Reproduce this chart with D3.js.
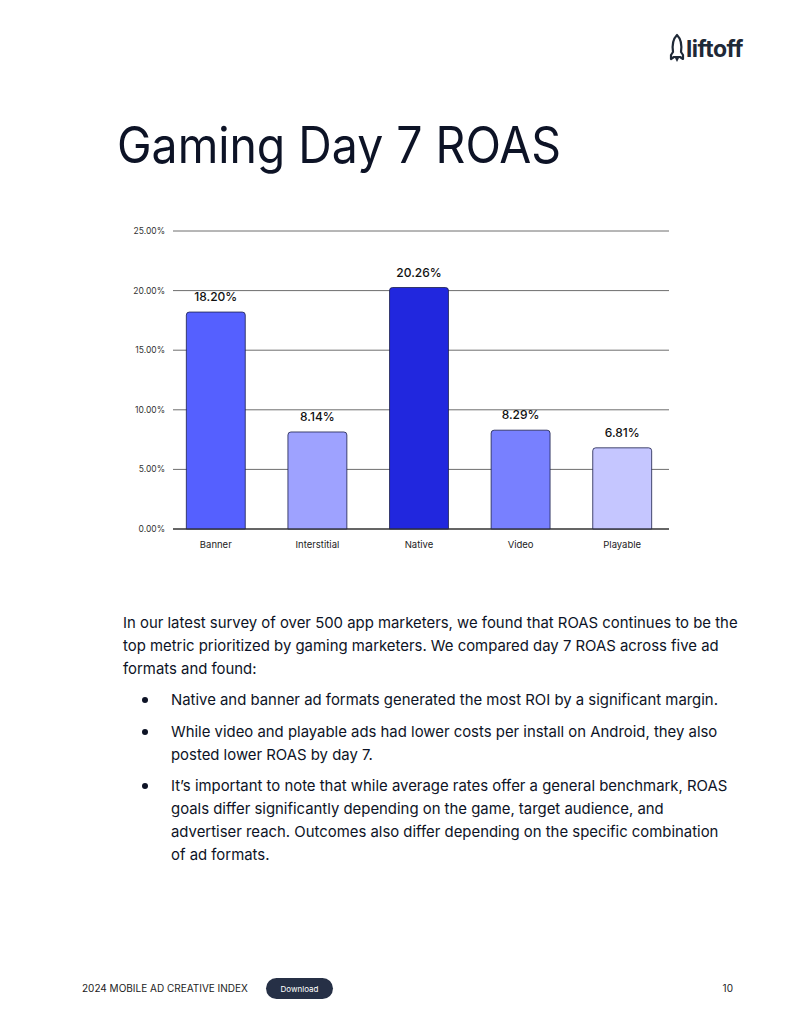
<!DOCTYPE html>
<html><head><meta charset="utf-8">
<script src="https://cdn.jsdelivr.net/npm/d3@7"></script>
<style>
html,body{margin:0;padding:0;background:#fff;}
svg{display:block;font-family:Inter,"Noto Sans",sans-serif;}
</style></head>
<body>
<script>
const categories = ["Banner","Interstitial","Native","Video","Playable"];
const values = [18.20, 8.14, 20.26, 8.29, 6.81];
const barColors = ["#5560FF","#9EA2FF","#2127DE","#7880FF","#C5C6FF"];
const yTicks = [0,5,10,15,20,25];
const title = "Gaming Day 7 ROAS";
const introLines = ["In our latest survey of over 500 app marketers, we found that ROAS continues to be the",
 "top metric prioritized by gaming marketers. We compared day 7 ROAS across five ad",
 "formats and found:"];
const bullets = [
 ["Native and banner ad formats generated the most ROI by a significant margin."],
 ["While video and playable ads had lower costs per install on Android, they also","posted lower ROAS by day 7."],
 ["It’s important to note that while average rates offer a general benchmark, ROAS","goals differ significantly depending on the game, target audience, and","advertiser reach. Outcomes also differ depending on the specific combination","of ad formats."]
];
const footerLeft = "2024 MOBILE AD CREATIVE INDEX";
const footerButton = "Download";
const pageNum = "10";

const W=800,H=1035;
const svg=d3.select("body").append("svg").attr("width",W).attr("height",H);
const ink="#0d1326";

function fit(sel,w){ sel.each(function(){ const l=this.getComputedTextLength(); if(Math.abs(l-w)>1) d3.select(this).attr("textLength",w).attr("lengthAdjust","spacingAndGlyphs");}); }

// logo
const logo=svg.append("g").attr("transform","translate(670,35)");
logo.append("path").attr("d","M7,0 C11,4 12,10 11,17 L13,20 L13,24 L10,22 L4,22 L1,24 L1,20 L3,17 C2,10 3,4 7,0 Z")
 .attr("fill","none").attr("stroke","#1f2937").attr("stroke-width",2.2).attr("stroke-linejoin","round");
logo.append("path").attr("d","M5,23 L7,27 L9,23 Z").attr("fill","#1f2937");
logo.append("text").attr("x",16).attr("y",22).attr("font-size",23).attr("font-weight",700).attr("fill","#1f2937").attr("letter-spacing",-0.5).text("liftoff").call(fit,57);

// title
svg.append("text").attr("x",117).attr("y",163).attr("font-size",50).attr("font-weight",400).attr("fill",ink).text(title).call(fit,444);

// chart
const y=d3.scaleLinear().domain([0,25]).range([529,231]);
const x=d3.scaleBand().domain(categories).range([165,673]).paddingInner(0.42).paddingOuter(0.21);
const g=svg.append("g");
g.selectAll("line.grid").data(yTicks).join("line").attr("class","grid")
 .attr("x1",173).attr("x2",669).attr("y1",d=>y(d)).attr("y2",d=>y(d))
 .attr("stroke",d=>d===0?"#333":"#6e6e6e").attr("stroke-width",1);
g.selectAll("text.yt").data(yTicks).join("text").attr("class","yt")
 .attr("x",165).attr("y",d=>y(d)+3).attr("text-anchor","end").attr("font-size",8.5).attr("fill","#333")
 .text(d=>d3.format(".2f")(d)+"%");
const data=categories.map((c,i)=>({c,v:values[i],col:barColors[i]}));
const r=3;
g.selectAll("path.bar").data(data).join("path").attr("class","bar")
 .attr("d",d=>{const x0=x(d.c),x1=x0+x.bandwidth(),t=y(d.v),b=y(0);
   return `M${x0},${b} L${x0},${t+r} Q${x0},${t} ${x0+r},${t} L${x1-r},${t} Q${x1},${t} ${x1},${t+r} L${x1},${b} Z`;})
 .attr("fill",d=>d.col).attr("stroke","#1b1e4a").attr("stroke-width",0.8);
g.append("line").attr("x1",173).attr("x2",669).attr("y1",y(0)).attr("y2",y(0)).attr("stroke","#333");
g.selectAll("text.vl").data(data).join("text").attr("class","vl")
 .attr("x",d=>x(d.c)+x.bandwidth()/2).attr("y",d=>y(d.v)-11).attr("text-anchor","middle")
 .attr("font-size",12).attr("font-weight",500).attr("fill","#111").text(d=>d3.format(".2f")(d.v)+"%");
g.selectAll("text.xl").data(categories).join("text").attr("class","xl")
 .attr("x",d=>x(d)+x.bandwidth()/2).attr("y",548).attr("text-anchor","middle")
 .attr("font-size",9.5).attr("fill","#222").text(d=>d);

// paragraph
const fs=14.9, lh=23;
svg.selectAll("text.intro").data(introLines).join("text").attr("class","intro")
 .attr("x",123).attr("y",(d,i)=>628+i*lh).attr("font-size",fs).attr("fill",ink).text(d=>d);
const bulletStarts=[705,737,791];
bullets.forEach((lines,bi)=>{
  svg.append("circle").attr("cx",145).attr("cy",bulletStarts[bi]-5).attr("r",3).attr("fill",ink);
  svg.selectAll(null).data(lines).join("text").attr("x",171).attr("y",(d,i)=>bulletStarts[bi]+i*lh)
   .attr("font-size",fs).attr("fill",ink).text(d=>d);
});

// footer
svg.append("text").attr("x",82).attr("y",992).attr("font-size",10).attr("fill","#222").text(footerLeft);
svg.append("rect").attr("x",266).attr("y",978).attr("width",67).attr("height",21).attr("rx",10.5).attr("fill","#263046");
svg.append("text").attr("x",299.5).attr("y",991.5).attr("text-anchor","middle").attr("font-size",8).attr("fill","#fff").text(footerButton);
svg.append("text").attr("x",733).attr("y",992).attr("text-anchor","end").attr("font-size",10).attr("fill","#222").text(pageNum);
</script>
</body></html>
